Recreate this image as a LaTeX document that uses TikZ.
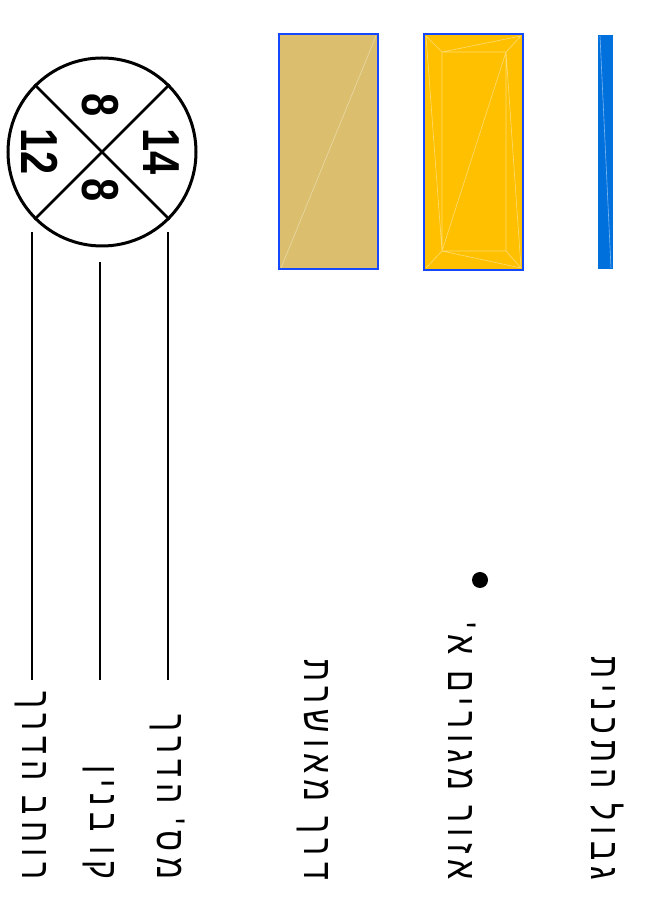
\documentclass[tikz,border=0pt]{standalone}
\usepackage{fontspec}
\setmainfont{Liberation Sans}
\newfontfamily\hebfont[Script=Hebrew, LetterSpace=19]{Liberation Sans}
\TeXXeTstate=1
\usetikzlibrary{positioning}

\definecolor{roadtan}{HTML}{DBBF6E}
\definecolor{homeyellow}{HTML}{FFC000}
\definecolor{edgeblue}{HTML}{1448FF}
\definecolor{limitblue}{HTML}{0070DD}

\begin{document}
\begin{tikzpicture}[x=1pt, y=1pt,
    lbl/.style = {anchor=east, inner sep=0pt, xscale=0.8,
                  font=\hebfont\fontsize{40}{44}\selectfont},
    num/.style = {inner sep=0pt, xscale=0.8,
                  font=\bfseries\fontsize{52}{54}\selectfont},
    leader/.style = {line width=1.5pt},
    box/.style = {draw=edgeblue, line width=2.5pt},
    seam/.style = {line width=0.6pt}
  ]
  \useasboundingbox (0,0) rectangle (652,900);

  \begin{scope}[shift={(0,900)}, rotate=-90, transform shape]
    % road sign: number, building lines, width
    \node[circle, draw, line width=3pt, minimum size=188pt, inner sep=0pt] (sign) at (152,102) {};
    \draw[line width=2.5pt] (sign.45) -- (sign.225);
    \draw[line width=2.5pt] (sign.135) -- (sign.-45);
    \node[num] (nr)  at (152,161) {14};
    \node[num] (wd)  at (152,40)  {12};
    \node[num] (bl1) at (105,100) {8};
    \node[num] (bl2) at (190,100) {8};

    \coordinate (w0) at (232,32);  \coordinate (w1) at (680,32);
    \coordinate (b0) at (262,100); \coordinate (b1) at (680,100);
    \coordinate (n0) at (232,168); \coordinate (n1) at (680,168);
    \draw[leader] (w0) -- (w1);
    \draw[leader] (b0) -- (b1);
    \draw[leader] (n0) -- (n1);

    \node[lbl] (width)  at (880,31)  {\beginR רוחב הדרך\endR};
    \node[lbl] (bline)  at (880,99)  {\beginR קו בנין\endR};
    \node[lbl] (number) at (880,167) {\beginR מס' הדרך\endR};

    % approved road
    \draw[box, fill=roadtan] (34,279) rectangle (269,378);
    \draw[seam, roadtan!60!white] (268,281) -- (36,376);
    \node[lbl] (road) at (880,313) {\beginR דרך מאושרת\endR};

    % residential zone
    \draw[box, fill=homeyellow] (34,424) rectangle (270,523);
    \draw[seam, homeyellow!55!white]
      (36,426) -- (52,442) -- (36,521) (52,506) -- (36,521)
      (52,506) -- (268,521) (52,506) -- (251,442) -- (36,426)
      (251,442) -- (268,521) (251,506) -- (268,521) (251,442) -- (268,426)
      (52,442) rectangle (251,506);
    \node[lbl] (zone) at (880,462) {\beginR אזור מגורים א'\endR};
    \node[circle, fill, inner sep=0pt, minimum size=16pt] (dot) at (580,480) {};

    % plan boundary
    \fill[limitblue] (35,598) rectangle (269,613);
    \draw[seam, limitblue!50!white] (36,600) -- (268,611);
    \node[lbl] (limit) at (880,607) {\beginR גבול התכנית\endR};
  \end{scope}
\end{tikzpicture}
\end{document}
